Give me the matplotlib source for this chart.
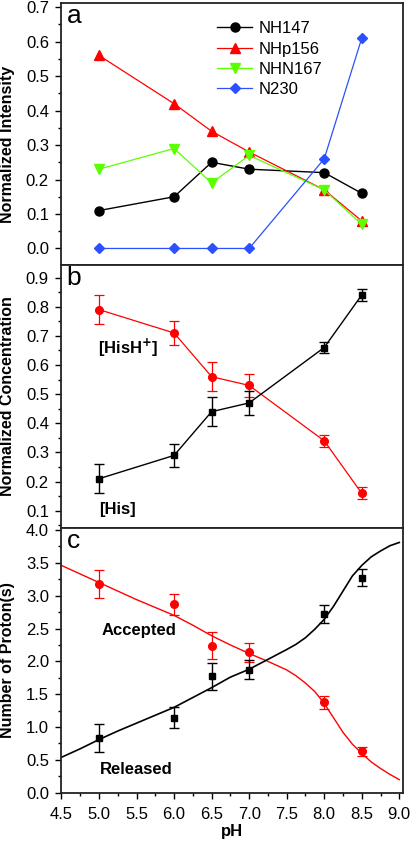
import matplotlib
matplotlib.use("Agg")
import matplotlib.pyplot as plt
from matplotlib.ticker import MultipleLocator, NullLocator

plt.rcParams["font.family"] = ["Liberation Sans", "DejaVu Sans"]

_RED   = "#FF0000"
_GREEN = "#5CFF00"
_BLUE  = "#2A50FF"
_FRAME = "#222222"

# --- data -------------------------------------------------------------
ph = [5.0, 6.0, 6.5, 7.0, 8.0, 8.5]

# panel a: normalized intensity
nh147  = [0.11, 0.15, 0.25, 0.23, 0.22, 0.16]
nhp156 = [0.56, 0.42, 0.34, 0.28, 0.17, 0.08]
nhn167 = [0.23, 0.29, 0.19, 0.27, 0.17, 0.07]
n230   = [0.00, 0.00, 0.00, 0.00, 0.26, 0.61]

# panel b: normalized concentration
hish     = [0.79, 0.71, 0.56, 0.53, 0.34, 0.16]
hish_err = [0.05, 0.04, 0.05, 0.04, 0.02, 0.02]
his      = [0.21, 0.29, 0.44, 0.47, 0.66, 0.84]
his_err  = [0.05, 0.04, 0.05, 0.04, 0.02, 0.02]

# panel c: number of protons
accepted     = [3.18, 2.87, 2.24, 2.14, 1.38, 0.63]
accepted_err = [0.21, 0.16, 0.20, 0.145, 0.10, 0.07]
released     = [0.83, 1.14, 1.77, 1.87, 2.72, 3.27]
released_err = [0.21, 0.16, 0.20, 0.145, 0.14, 0.13]

# fitted curves
fit_ph       = [4.5, 4.75, 5.0, 5.25, 5.5, 5.75, 6.0, 6.25, 6.5, 6.75, 7.0, 7.25,
                7.5, 7.625, 7.75, 7.875, 8.0, 8.125, 8.25, 8.375, 8.5, 8.625,
                8.75, 8.875, 9.0]
fit_accepted = [3.46, 3.33, 3.20, 3.07, 2.94, 2.82, 2.70, 2.55, 2.39, 2.25, 2.12, 2.00,
                1.87, 1.78, 1.67, 1.54, 1.36, 1.14, 0.92, 0.74, 0.60, 0.47,
                0.37, 0.28, 0.20]
fit_released = [0.54, 0.67, 0.81, 0.94, 1.06, 1.18, 1.30, 1.45, 1.60, 1.76, 1.88, 2.03,
                2.18, 2.26, 2.36, 2.49, 2.64, 2.84, 3.07, 3.30, 3.46, 3.59,
                3.68, 3.76, 3.81]

FS = 12

fig = plt.figure(figsize=(4.11, 8.44), dpi=100, facecolor="white")
left, width = 0.1496, 0.831
ax_a = fig.add_axes([left, 0.6860, width, 0.3104])
ax_b = fig.add_axes([left, 0.3744, width, 0.3116])
ax_c = fig.add_axes([left, 0.0607, width, 0.3137])


def _style(ax, letter, ylabel, major, minor, show_x, label_y=0.5):
    ax.set_xlim(4.5, 9.05)
    for spine in ax.spines.values():
        spine.set_color(_FRAME)
        spine.set_linewidth(1.3)
    ax.yaxis.set_major_locator(MultipleLocator(major))
    ax.yaxis.set_minor_locator(MultipleLocator(minor))
    ax.tick_params(axis="y", which="major", direction="out", length=4.5, width=1,
                   labelsize=FS, pad=4.5, right=False)
    ax.tick_params(axis="y", which="minor", direction="out", length=2.5, width=1, right=False)
    if show_x:
        ax.xaxis.set_major_locator(MultipleLocator(0.5))
        ax.xaxis.set_minor_locator(MultipleLocator(0.25))
        ax.tick_params(axis="x", which="major", direction="out", length=4.5, width=1,
                       labelsize=FS, pad=6, top=False)
        ax.tick_params(axis="x", which="minor", direction="out", length=2.5, width=1, top=False)
    else:
        ax.xaxis.set_major_locator(NullLocator())
        ax.xaxis.set_minor_locator(NullLocator())
    ax.set_ylabel(ylabel, fontsize=11.5, fontweight="bold")
    ax.yaxis.set_label_coords(-0.136, label_y)
    ax.text(0.015, 0.995, letter, transform=ax.transAxes, fontsize=19,
            ha="left", va="top")


# panel a
ax_a.plot(ph, nh147, color="black", lw=1.0, marker="o", ms=6.5, label="NH147")
ax_a.plot(ph, nhp156, color=_RED, lw=0.9, marker="^", ms=7, label="NHp156")
ax_a.plot(ph, nhn167, color=_GREEN, lw=0.9, marker="v", ms=7, label="NHN167")
ax_a.plot(ph, n230, color=_BLUE, lw=0.9, marker="D", ms=5.5, label="N230")
ax_a.set_ylim(-0.048, 0.712)
_style(ax_a, "a", "Normalized Intensity", 0.1, 0.05, False, label_y=0.462)
ax_a.legend(loc="upper left", bbox_to_anchor=(0.432, 0.962), frameon=False,
            fontsize=FS, borderpad=0, labelspacing=0.32, handlelength=2.1,
            handletextpad=0.4)

# panel b
ax_b.errorbar(ph, hish, yerr=hish_err, color=_RED, lw=0.9, marker="o", ms=5.5,
              capsize=3.5, elinewidth=0.9, capthick=0.9)
ax_b.errorbar(ph, his, yerr=his_err, color="black", lw=1.0, marker="s", ms=5,
              capsize=3.5, elinewidth=1.0, capthick=1.0)
ax_b.set_ylim(0.041, 0.943)
_style(ax_b, "b", "Normalized Concentration", 0.1, 0.05, False)
ax_b.text(0.195, 0.684, r"[HisH$^{\mathbf{+}}$]", transform=ax_b.transAxes,
          fontsize=FS, fontweight="bold", ha="center", va="center")
ax_b.text(0.165, 0.072, "[His]", transform=ax_b.transAxes,
          fontsize=FS, fontweight="bold", ha="center", va="center")

# panel c
ax_c.plot(fit_ph, fit_accepted, color=_RED, lw=1.0)
ax_c.plot(fit_ph, fit_released, color="black", lw=1.2)
ax_c.errorbar(ph, accepted, yerr=accepted_err, color=_RED, ls="none", marker="o",
              ms=5.5, capsize=3.5, elinewidth=0.9, capthick=0.9)
ax_c.errorbar(ph, released, yerr=released_err, color="black", ls="none", marker="s",
              ms=5, capsize=3.5, elinewidth=1.0, capthick=1.0)
ax_c.set_ylim(0.0, 4.03)
_style(ax_c, "c", "Number of Proton(s)", 0.5, 0.25, True)
ax_c.set_xlabel("pH", fontsize=FS, fontweight="bold", labelpad=1)
ax_c.text(0.227, 0.611, "Accepted", transform=ax_c.transAxes,
          fontsize=FS, fontweight="bold", ha="center", va="center")
ax_c.text(0.218, 0.086, "Released", transform=ax_c.transAxes,
          fontsize=FS, fontweight="bold", ha="center", va="center")

fig.savefig("out.png", dpi=100, facecolor="white")
